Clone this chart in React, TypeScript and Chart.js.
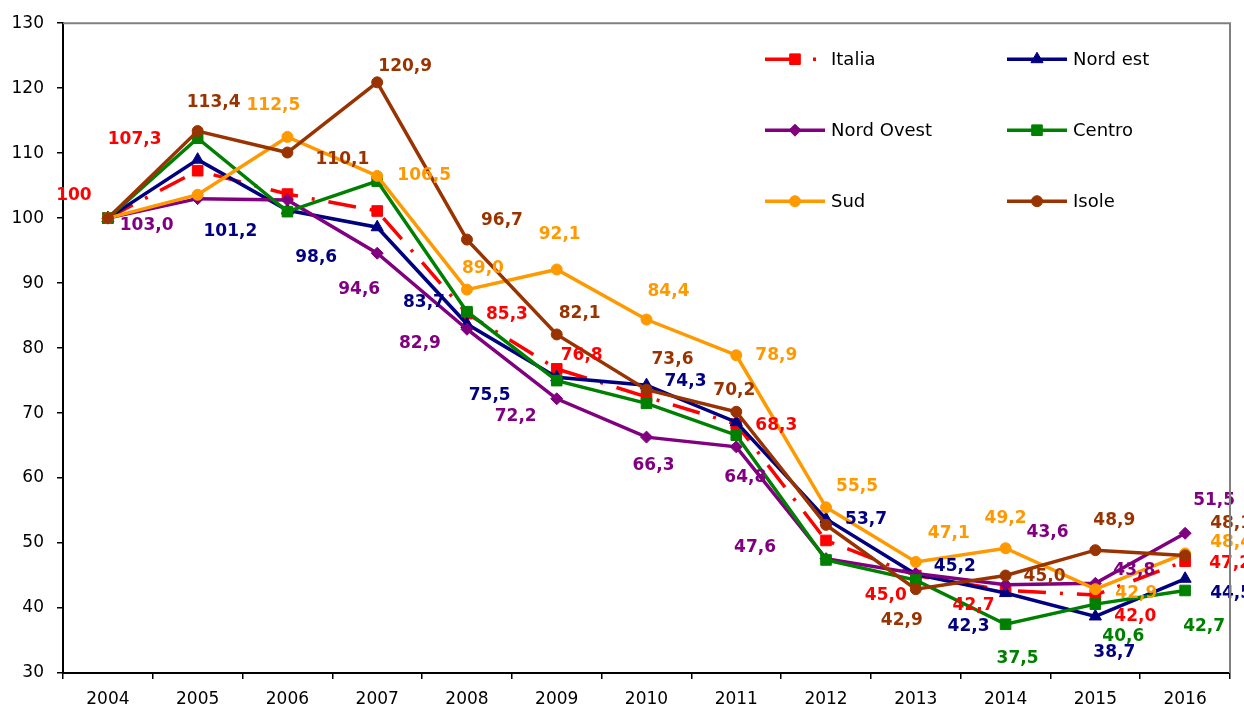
import React, { useEffect, useRef } from 'react';
import { Chart, registerables } from 'chart.js';

Chart.register(...registerables);

// ---------- DATA ----------
const years = ['2004', '2005', '2006', '2007', '2008', '2009', '2010', '2011', '2012', '2013', '2014', '2015', '2016'];
const italia = [100, 107.3, 103.7, 101.1, 85.3, 76.8, 72.5, 68.3, 50.4, 45.0, 42.7, 42.0, 47.2];
const nordEst = [100, 109.0, 101.2, 98.6, 83.7, 75.5, 74.3, 68.6, 53.7, 45.2, 42.3, 38.7, 44.5];
const nordOvest = [100, 103.0, 102.8, 94.6, 82.9, 72.2, 66.3, 64.8, 47.6, 45.3, 43.6, 43.8, 51.5];
const centro = [100, 112.3, 101.0, 105.7, 85.6, 75.0, 71.5, 66.6, 47.4, 44.3, 37.5, 40.6, 42.7];
const sud = [100, 103.6, 112.5, 106.5, 89.0, 92.1, 84.4, 78.9, 55.5, 47.1, 49.2, 42.9, 48.4];
const isole = [100, 113.4, 110.1, 120.9, 96.7, 82.1, 73.6, 70.2, 52.8, 42.9, 45.0, 48.9, 48.1];
const seriesNames = ['Italia', 'Nord est', 'Nord Ovest', 'Centro', 'Sud', 'Isole'];
const yMin = 30;
const yMax = 130;
const yStep = 10;

// ---------- STYLE ----------
const FONT = '"DejaVu Sans", Verdana, sans-serif';
const colors = ['#FF0000', '#000080', '#800080', '#008000', '#FF9900', '#993300'];
const pointStyles = ['rect', 'triangle', 'rectRot', 'rect', 'circle', 'circle'];
const pointRadii = [7.5, 7, 6, 7.5, 5.5, 5.5];
const dashes: number[][] = [[28, 14, 3, 14], [], [], [], [], []];

// value-label offsets (px from the point), null = no label
type Off = [number, number] | null;
const italiaLabelOff: Off[] = [[-34, -23], [-63, -31], null, null, [40, 1], [25, -13], null, [40, 1], null, [-30, 20], [-32, 15], [40, 22], [45, 2]];
const nordEstLabelOff: Off[] = [null, null, [-57, 21], [-61, 30], [-43, -21], [-67, 18], [39, -4], null, [40, 1], [39, -8], [-37, 34], [19, 36], [46, 15]];
const nordOvestLabelOff: Off[] = [null, [-51, 27], null, [-18, 36], [-47, 14], [-41, 18], [7, 28], [9, 31], [-71, -11], null, [42, -52], [39, -13], [29, -33]];
const centroLabelOff: Off[] = [null, null, null, null, null, null, null, null, null, null, [12, 34], [28, 32], [19, 36]];
const sudLabelOff: Off[] = [null, null, [-14, -31], [47, 0], [16, -21], [3, -35], [22, -28], [40, 0], [31, -21], [33, -28], [0, -30], [41, 4], [46, -11]];
const isoleLabelOff: Off[] = [null, [16, -28], [55, 7], [28, -16], [35, -19], [23, -21], [26, -30], [-2, -21], null, [-14, 31], [39, 1], [19, -30], [46, -32]];
const labelOffsets = [italiaLabelOff, nordEstLabelOff, nordOvestLabelOff, centroLabelOff, sudLabelOff, isoleLabelOff];

const allSeries = [italia, nordEst, nordOvest, centro, sud, isole];

function fmt(v: number): string {
  if (v === 100) return '100';
  return v.toFixed(1).replace('.', ',');
}

function drawMarker(ctx: CanvasRenderingContext2D, style: string, x: number, y: number, r: number, color: string) {
  ctx.save();
  ctx.fillStyle = color;
  ctx.strokeStyle = color;
  ctx.lineWidth = 1;
  ctx.setLineDash([]);
  ctx.beginPath();
  if (style === 'circle') {
    ctx.arc(x, y, r, 0, Math.PI * 2);
  } else if (style === 'rect') {
    const s = Math.SQRT1_2 * r;
    ctx.rect(x - s, y - s, 2 * s, 2 * s);
  } else if (style === 'rectRot') {
    ctx.moveTo(x - r, y);
    ctx.lineTo(x, y - r);
    ctx.lineTo(x + r, y);
    ctx.lineTo(x, y + r);
    ctx.closePath();
  } else if (style === 'triangle') {
    const w = r * Math.sqrt(3) / 2;
    ctx.moveTo(x, y - r);
    ctx.lineTo(x + w, y + r / 2);
    ctx.lineTo(x - w, y + r / 2);
    ctx.closePath();
  }
  ctx.fill();
  ctx.stroke();
  ctx.restore();
}

const valueLabelsPlugin = {
  id: 'valueLabels',
  afterDatasetsDraw(chart: any) {
    const ctx: CanvasRenderingContext2D = chart.ctx;
    ctx.save();
    ctx.font = `bold 17px ${FONT}`;
    ctx.textAlign = 'center';
    ctx.textBaseline = 'middle';
    chart.data.datasets.forEach((ds: any, i: number) => {
      const meta = chart.getDatasetMeta(i);
      const offs = labelOffsets[i];
      ctx.fillStyle = colors[i];
      meta.data.forEach((el: any, j: number) => {
        const off = offs[j];
        if (!off) return;
        ctx.fillText(fmt(ds.data[j]), el.x + off[0], el.y + off[1]);
      });
    });
    ctx.restore();
  },
};

const framePlugin = {
  id: 'frameAndLegend',
  afterDraw(chart: any) {
    const ctx: CanvasRenderingContext2D = chart.ctx;
    const a = chart.chartArea;
    ctx.save();
    ctx.strokeStyle = '#808080';
    ctx.lineWidth = 2;
    ctx.beginPath();
    ctx.moveTo(a.left, a.top);
    ctx.lineTo(a.right, a.top);
    ctx.lineTo(a.right, a.bottom);
    ctx.stroke();

    // legend (2 columns x 3 rows inside the plot area)
    const colX = [a.left + 702, a.left + 944];
    const rowY = [a.top + 36, a.top + 107, a.top + 178];
    ctx.font = `18px ${FONT}`;
    ctx.textBaseline = 'middle';
    ctx.textAlign = 'left';
    seriesNames.forEach((name, i) => {
      const x0 = colX[i % 2];
      const y0 = rowY[Math.floor(i / 2)];
      ctx.strokeStyle = colors[i];
      ctx.lineWidth = 3.5;
      ctx.lineCap = 'butt';
      if (dashes[i].length) ctx.setLineDash([35, 13, 3, 20]);
      else ctx.setLineDash([]);
      ctx.beginPath();
      ctx.moveTo(x0, y0);
      ctx.lineTo(x0 + 60, y0);
      ctx.stroke();
      ctx.setLineDash([]);
      drawMarker(ctx, pointStyles[i], x0 + 30, y0, pointRadii[i], colors[i]);
      ctx.fillStyle = '#000';
      ctx.fillText(name, x0 + 66, y0 + 1);
    });
    ctx.restore();
  },
};

export default function App() {
  const ref = useRef<HTMLCanvasElement | null>(null);

  useEffect(() => {
    document.body.style.margin = '0';
    if (!ref.current) return;
    const datasets = allSeries.map((data, i) => ({
      label: seriesNames[i],
      data,
      borderColor: colors[i],
      backgroundColor: colors[i],
      borderWidth: 3.5,
      borderDash: dashes[i],
      borderCapStyle: 'butt' as const,
      pointStyle: pointStyles[i] as any,
      pointRadius: pointRadii[i],
      pointBorderWidth: 1,
      pointBackgroundColor: colors[i],
      pointBorderColor: colors[i],
      tension: 0,
      fill: false,
      order: 5 - i,
    }));

    const chart = new Chart(ref.current, {
      type: 'line',
      data: { labels: years, datasets },
      options: {
        responsive: false,
        animation: false,
        layout: { padding: { top: 22, right: 14, left: 0, bottom: 0 } },
        plugins: {
          legend: { display: false },
          tooltip: { enabled: false },
        },
        scales: {
          x: {
            type: 'category',
            offset: true,
            grid: { offset: true, drawOnChartArea: false, drawTicks: true, tickLength: 6, color: '#000', lineWidth: 1.5 },
            border: { color: '#000', width: 2 },
            ticks: { color: '#000', font: { family: FONT, size: 17 }, padding: 10, maxRotation: 0, autoSkip: false },
            afterFit: (s: any) => { s.height = 38; },
          },
          y: {
            min: yMin,
            max: yMax,
            ticks: { stepSize: yStep, color: '#000', font: { family: FONT, size: 17 }, padding: 13 },
            grid: { drawOnChartArea: false, drawTicks: true, tickLength: 6, color: '#000', lineWidth: 1.5 },
            border: { color: '#000', width: 2 },
            afterFit: (s: any) => { s.width = 63; },
          },
        },
      },
      plugins: [valueLabelsPlugin, framePlugin],
    });
    return () => chart.destroy();
  }, []);

  return (
    <div style={{ width: 1244, height: 711, background: '#fff' }}>
      <canvas ref={ref} width={1244} height={711} style={{ display: 'block' }} />
    </div>
  );
}
